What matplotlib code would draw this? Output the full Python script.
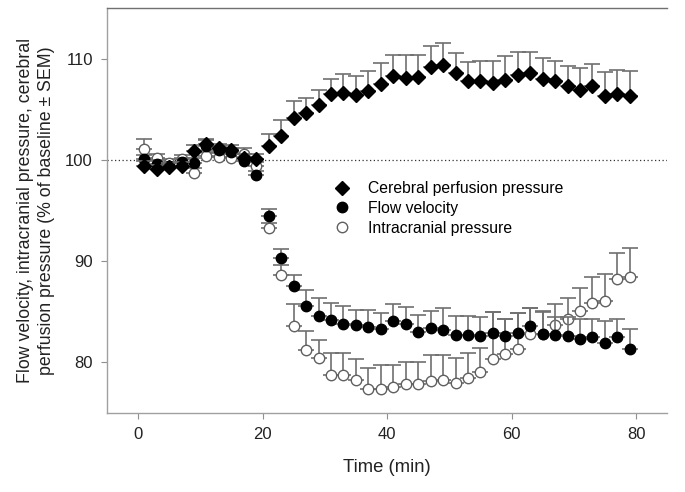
import numpy as np
import matplotlib
matplotlib.use("Agg")
import matplotlib.pyplot as plt

plt.rcParams['font.family'] = ['Liberation Sans', 'DejaVu Sans']

# time points (min)
time = np.arange(1, 80, 2)

# cerebral perfusion pressure (% of baseline) and upper SEM
cpp = [99.4, 99.1, 99.3, 99.4, 100.9, 101.6, 101.2, 101.0, 100.2, 100.1,
       101.4, 102.4, 104.1, 104.6, 105.4, 106.5, 106.6, 106.4, 106.8, 107.5,
       108.3, 108.1, 108.2, 109.2, 109.4, 108.6, 107.8, 107.8, 107.6, 107.9,
       108.4, 108.6, 108.0, 107.8, 107.3, 106.9, 107.3, 106.3, 106.5, 106.3]
cpp_sem = [0.5, 0.4, 0.4, 0.4, 0.6, 0.5, 0.4, 0.5, 0.4, 0.5,
           1.2, 1.5, 1.7, 1.5, 1.5, 1.5, 1.9, 1.9, 2.0, 2.1,
           2.1, 2.3, 2.2, 2.1, 2.1, 2.0, 1.9, 2.0, 2.2, 2.4,
           2.3, 2.1, 2.1, 2.0, 2.0, 2.2, 2.2, 2.4, 2.4, 2.5]

# flow velocity
fv = [100.1, 99.6, 99.4, 99.8, 99.7, 101.4, 101.0, 100.8, 99.9, 98.5,
      94.5, 90.3, 87.5, 85.6, 84.6, 84.2, 83.8, 83.7, 83.5, 83.3,
      84.1, 83.8, 83.0, 83.4, 83.2, 82.7, 82.7, 82.6, 82.9, 82.6,
      82.9, 83.6, 82.8, 82.7, 82.6, 82.3, 82.5, 81.9, 82.5, 81.3]
fv_sem = [0.4, 0.4, 0.4, 0.4, 0.5, 0.6, 0.4, 0.4, 0.4, 0.4,
          0.7, 0.9, 1.1, 1.5, 1.8, 1.7, 1.8, 1.5, 1.7, 1.6,
          1.7, 1.7, 1.7, 1.7, 2.2, 1.9, 1.9, 1.9, 2.1, 1.7,
          2.0, 1.8, 2.2, 1.8, 1.9, 2.0, 1.8, 2.2, 1.8, 2.0]

# intracranial pressure
icp = [101.1, 100.2, 99.7, 100.1, 98.7, 100.4, 100.3, 100.2, 100.6, 99.4,
       93.3, 88.6, 83.6, 81.2, 80.4, 78.8, 78.8, 78.3, 77.4, 77.4,
       77.6, 77.9, 77.9, 78.2, 78.3, 78.0, 78.5, 79.0, 80.3, 80.8,
       81.3, 82.8, 82.8, 83.7, 84.3, 85.1, 85.9, 86.1, 88.2, 88.4]
icp_sem = [1.0, 0.4, 0.4, 0.4, 0.5, 0.4, 0.4, 0.4, 0.6, 0.4,
           0.5, 1.0, 2.2, 1.9, 1.8, 2.1, 2.1, 2.0, 2.0, 2.3,
           2.1, 2.1, 2.1, 2.5, 2.4, 2.4, 2.4, 2.4, 4.7, 3.5,
           3.6, 2.6, 2.3, 2.1, 2.1, 2.2, 2.5, 2.6, 2.6, 2.9]

fig = plt.figure(figsize=(6.85, 4.92), dpi=100)
ax = fig.add_axes([0.156, 0.1606, 0.818, 0.823])

def plot_series(y, sem, **kw):
    y = np.asarray(y)
    sem = np.asarray(sem)
    ax.errorbar(time, y, yerr=[np.zeros_like(sem), sem], fmt='none',
                ecolor='#707070', elinewidth=1.2, capsize=6, capthick=1.2,
                zorder=kw.pop('ez', 2))
    ax.plot(time, y, linestyle='none', **kw)

plot_series(icp, icp_sem, marker='o', ms=7.5, mfc='white', mec='#606060',
            mew=1.0, ez=2, zorder=3, label='Intracranial pressure')
plot_series(fv, fv_sem, marker='o', ms=7.5, mfc='black', mec='black',
            ez=4, zorder=5, label='Flow velocity')
plot_series(cpp, cpp_sem, marker='D', ms=7.5, mfc='black', mec='black',
            ez=6, zorder=7, label='Cerebral perfusion pressure')

ax.axhline(100, color='#333333', linestyle=(0, (1, 2)), linewidth=0.9, zorder=1)

ax.set_xlim(-5, 85)
ax.set_ylim(75, 115)
ax.set_xticks([0, 20, 40, 60, 80])
ax.set_yticks([80, 90, 100, 110])
ax.tick_params(direction='out', length=4, width=0.8, color='#909090',
               labelsize=12, labelcolor='#222222', pad=6)

for side in ['left', 'bottom']:
    ax.spines[side].set_color('#a0a0a0')
    ax.spines[side].set_linewidth(1.0)
ax.spines['top'].set_color('#707070')
ax.spines['top'].set_linewidth(1.0)
ax.spines['right'].set_visible(False)

ax.set_xlabel('Time (min)', fontsize=13.3, color='#222222', labelpad=12)
ax.set_ylabel('Flow velocity, intracranial pressure, cerebral\n'
              'perfusion pressure (% of baseline ± SEM)',
              fontsize=12.8, color='#222222', labelpad=7, linespacing=1.35)

handles, labels = ax.get_legend_handles_labels()
order = [2, 1, 0]
ax.legend([handles[i] for i in order], [labels[i] for i in order],
          loc='upper left', bbox_to_anchor=(0.391, 0.588), frameon=False,
          fontsize=11.3, handletextpad=1.1, labelspacing=0.3,
          handlelength=1.2, borderaxespad=0)

fig.savefig('out.png', dpi=100)
